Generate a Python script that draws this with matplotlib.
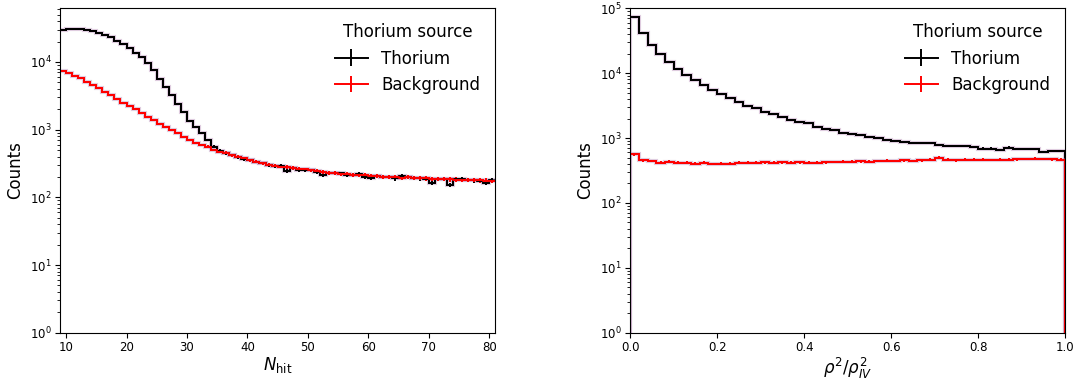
import numpy as np
import matplotlib.pyplot as plt

# Nhit histogram, bins of width 1 from 9 to 81
nhit_edges = np.arange(9, 82, 1)
nhit_thorium = [
    30000, 30500, 31000, 31000, 30000, 28500, 27000, 25000, 23000, 20500,
    18300, 15800, 13700, 11800, 9600, 7500, 5600, 4300, 3200, 2400,
    1800, 1350, 1100, 880, 700, 560, 490, 445, 415, 390,
    365, 350, 335, 320, 300, 290, 295, 248, 275, 250,
    255, 250, 240, 212, 228, 226, 225, 215, 212, 222,
    200, 196, 205, 198, 200, 190, 205, 200, 195, 190,
    185, 163, 185, 188, 152, 185, 188, 182, 178, 175,
    163, 178,
]
nhit_background = [
    7300, 6800, 6300, 5700, 5100, 4600, 4100, 3600, 3200, 2800,
    2500, 2200, 2000, 1740, 1550, 1380, 1230, 1100, 980, 880,
    780, 700, 640, 590, 560, 500, 470, 455, 420, 400,
    380, 355, 335, 320, 305, 295, 285, 280, 272, 265,
    258, 250, 245, 238, 232, 228, 224, 220, 217, 214,
    211, 208, 206, 203, 200, 198, 196, 198, 196, 193,
    190, 188, 186, 185, 184, 183, 182, 181, 180, 178,
    177, 175,
]

# rho^2 / rho_IV^2 histogram, 50 bins from 0 to 1
rho_edges = np.linspace(0, 1, 51)
rho_thorium = [
    73000, 41000, 27000, 20000, 15000, 11600, 9300, 7800, 6600, 5500,
    4800, 4200, 3600, 3100, 2900, 2500, 2350, 2100, 1900, 1750,
    1700, 1500, 1400, 1330, 1180, 1150, 1120, 1050, 1000, 950,
    910, 880, 850, 830, 830, 780, 750, 750, 750, 730,
    690, 690, 650, 715, 670, 670, 670, 615, 635, 635,
]
rho_background = [
    560, 455, 445, 415, 435, 415, 415, 405, 420, 400,
    405, 405, 415, 420, 415, 425, 415, 425, 420, 425,
    415, 420, 425, 430, 435, 435, 440, 435, 445, 450,
    445, 455, 445, 455, 465, 500, 465, 455, 465, 465,
    465, 460, 465, 465, 470, 475, 480, 475, 470, 465,
]


def draw_hist(ax, edges, counts, color, label, baseline=0):
    counts = np.array(counts, dtype=float)
    centers = 0.5 * (edges[:-1] + edges[1:])
    err = np.sqrt(counts)
    # faint band behind the line
    ax.stairs(counts, edges, color='#b98fb9', linewidth=3, alpha=0.45,
              baseline=baseline)
    ax.stairs(counts, edges, color=color, linewidth=1.4, baseline=baseline)
    ax.errorbar(centers, counts, yerr=err, color=color, linewidth=1.4,
                drawstyle='steps-mid', label=label)


fig, axes = plt.subplots(1, 2, figsize=(10.78, 3.81), dpi=100)
fig.subplots_adjust(left=0.0557, right=0.9882, bottom=0.1268, top=0.9782,
                    wspace=0.31)

ax = axes[0]
# the Nhit histogram runs past the axis range, so no drop at the edges
draw_hist(ax, nhit_edges, nhit_thorium, 'black', 'Thorium', baseline=None)
draw_hist(ax, nhit_edges, nhit_background, 'red', 'Background', baseline=None)
ax.set_yscale('log')
ax.set_xlim(9, 81)
ax.set_ylim(1, 6.2e4)
ax.set_xlabel(r'$N_{\rm hit}$', fontsize=12, labelpad=1)
ax.set_ylabel('Counts', fontsize=12)

ax = axes[1]
draw_hist(ax, rho_edges, rho_thorium, 'black', 'Thorium')
draw_hist(ax, rho_edges, rho_background, 'red', 'Background')
ax.set_yscale('log')
ax.set_xlim(0, 1)
ax.set_ylim(1, 1e5)
ax.set_xlabel(r'$\rho^2/\rho_{IV}^2$', fontsize=12, labelpad=1)
ax.set_ylabel('Counts', fontsize=12)

for ax in axes:
    ax.tick_params(labelsize=8.5, pad=2.5)
    ax.legend(title='Thorium source', fontsize=12, title_fontsize=12,
              frameon=False, loc='upper right')

fig.savefig('out.png', dpi=100)
